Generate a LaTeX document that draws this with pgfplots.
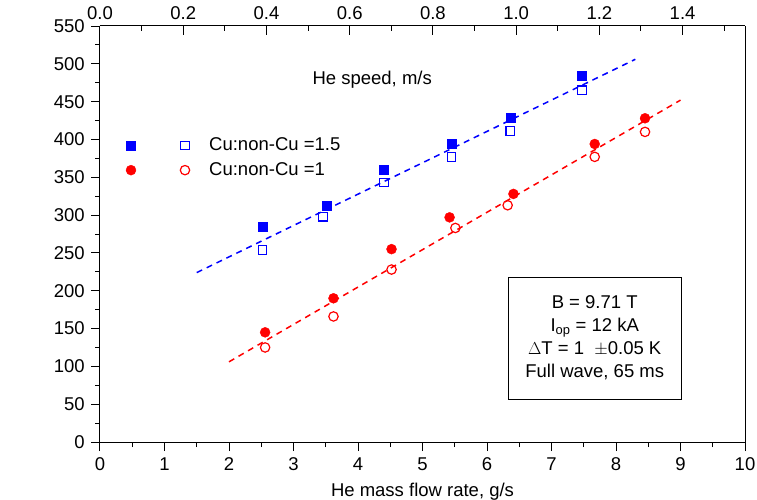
\documentclass[border=0pt]{standalone}
\usepackage{fontspec}
\setmainfont{Liberation Sans}
\usepackage{pgfplots}
\pgfplotsset{compat=1.18}
\definecolor{pblue}{RGB}{0,0,255}
\definecolor{pred}{RGB}{255,0,0}

\begin{document}
\fontsize{18.5}{22}\selectfont
\begin{tikzpicture}
\begin{axis}[
    at={(0,0)}, anchor=south west,
    scale only axis, width=645pt, height=416pt,
    xmin=0, xmax=10, ymin=0, ymax=550,
    axis x line*=bottom, axis y line*=left,
    xtick={0,1,...,10}, minor xtick={0.5,1.5,...,9.5},
    ytick={0,50,...,550}, minor ytick={25,75,...,525},
    tick align=outside,
    major tick length=9pt, minor tick length=5pt,
    every tick/.style={black, line width=1pt},
    axis line style={line width=1pt},
    xlabel={He mass flow rate, g/s},
    xlabel style={yshift=0pt},
    /pgf/number format/assume math mode=true,
    legend cell align=left,
    legend style={draw=none, fill=none, at={(0.04,0.737)}, anchor=north west,
        row sep=5pt, inner sep=0pt},
]
\addlegendimage{legend image code/.code={
    \path[pblue, fill=pblue] plot[only marks, mark=square*, mark size=4.5pt] coordinates {(0pt,0pt)};
    \path[pblue, line width=1.2pt] plot[only marks, mark=square, mark size=4.3pt] coordinates {(54pt,0pt)};
    \path (76pt,0pt);
}}
\addlegendentry{Cu:non-Cu =1.5}
\addlegendimage{legend image code/.code={
    \path[pred, fill=pred] plot[only marks, mark=*, mark size=5pt] coordinates {(0pt,0pt)};
    \path[pred, line width=1.2pt] plot[only marks, mark=o, mark size=4.7pt] coordinates {(54pt,0pt)};
    \path (76pt,0pt);
}}
\addlegendentry{Cu:non-Cu =1}

% fit lines
\addplot[pblue, line width=1.5pt, dash pattern=on 6pt off 5pt, forget plot]
    coordinates {(1.5,224) (8.3,506)};
\addplot[pred, line width=1.5pt, dash pattern=on 6pt off 5pt, forget plot]
    coordinates {(2.0,106) (9.0,452)};

% Cu:non-Cu = 1.5
\addplot[only marks, mark=square*, mark size=4.5pt, pblue, forget plot]
    coordinates {(2.52,284) (3.51,313) (4.40,360) (5.45,394) (6.36,429) (7.47,484)};
\addplot[only marks, mark=square, mark size=4.3pt, pblue, line width=1.2pt, forget plot]
    coordinates {(2.52,254) (3.46,298) (4.40,343) (5.45,377) (6.36,411) (7.47,465)};

% Cu:non-Cu = 1
\addplot[only marks, mark=*, mark size=5pt, pred, forget plot]
    coordinates {(2.56,145) (3.62,190) (4.52,255) (5.42,297) (6.41,328) (7.67,394) (8.45,428)};
\addplot[only marks, mark=o, mark size=4.7pt, pred, line width=1.2pt, forget plot]
    coordinates {(2.56,125) (3.62,166) (4.52,228) (5.51,283) (6.32,313) (7.67,377) (8.45,410)};

\node at (rel axis cs:0.422,0.87) {He speed, m/s};
\node[rotate=90] at (rel axis cs:0,0.365) [yshift=82pt]
    {\(\int\)(dB/dt)\textsuperscript{2}dt, T\textsuperscript{2}/s};
\node[draw=black, line width=0.8pt, fill=white, align=center,
      minimum width=173pt, minimum height=122pt,
      font=\fontsize{18.5}{23}\selectfont]
    at (rel axis cs:0.767,0.25)
    {B = 9.71 T\\ I\textsubscript{op} = 12 kA\\ \(\Delta\)T = 1 \ \(\pm\)0.05 K\\ Full wave, 65 ms};
\end{axis}

\begin{axis}[
    at={(0,0)}, anchor=south west,
    scale only axis, width=645pt, height=416pt,
    xmin=0, xmax=1.55, ymin=0, ymax=550,
    axis x line*=top, axis y line*=right,
    ytick=\empty,
    xtick={0,0.2,0.4,0.6,0.8,1.0,1.2,1.4},
    minor xtick={0.1,0.3,0.5,0.7,0.9,1.1,1.3,1.5},
    tick align=inside,
    major tick length=9pt, minor tick length=5pt,
    every tick/.style={black, line width=1pt},
    axis line style={line width=1pt},
    /pgf/number format/assume math mode=true,
    xticklabel style={/pgf/number format/.cd, fixed, fixed zerofill, precision=1},
]
\end{axis}
\pgfresetboundingbox
\path[use as bounding box] (-100pt,-57pt) rectangle (657pt,442pt);
\end{tikzpicture}
\end{document}
